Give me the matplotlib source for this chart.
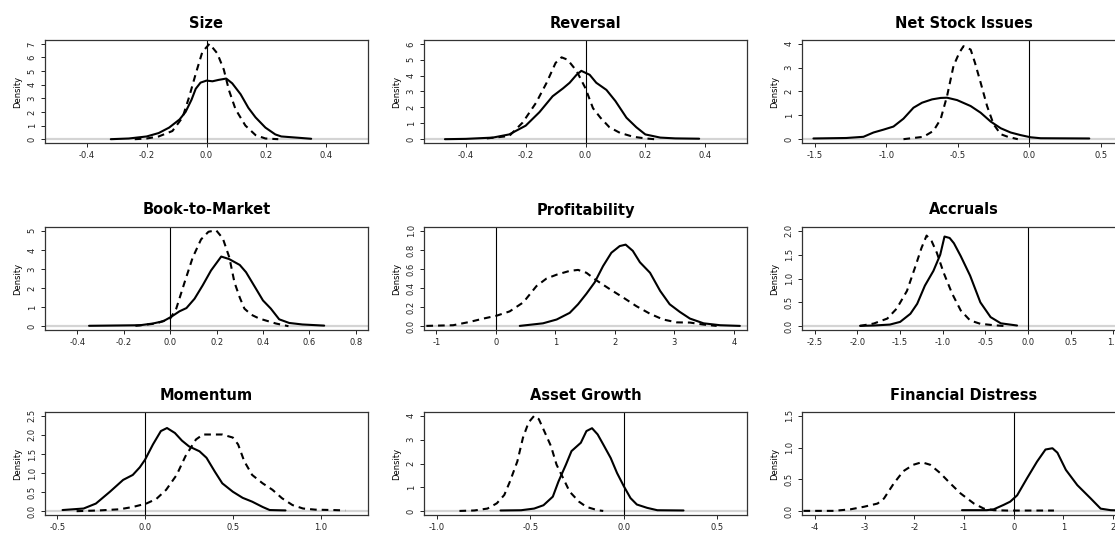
import matplotlib
matplotlib.use('Agg')
import matplotlib.pyplot as plt

# --- data (solid = first sample, dashed = second) ---
size_solid_x = [-0.32, -0.26, -0.2, -0.16, -0.125, -0.09, -0.07, -0.05, -0.036, -0.02, 0.0, 0.02, 0.04, 0.066, 0.086, 0.114, 0.14, 0.164, 0.197, 0.23, 0.25, 0.31, 0.35]
size_solid_y = [0.0, 0.05, 0.2, 0.45, 0.85, 1.45, 2.0, 2.9, 3.7, 4.15, 4.3, 4.25, 4.35, 4.45, 4.1, 3.3, 2.3, 1.6, 0.85, 0.35, 0.2, 0.1, 0.03]
size_dash_x = [-0.24, -0.2, -0.16, -0.114, -0.08, -0.058, -0.036, -0.014, 0.01, 0.036, 0.058, 0.075, 0.097, 0.13, 0.164, 0.197, 0.24]
size_dash_y = [0.0, 0.05, 0.2, 0.6, 1.6, 3.1, 4.8, 6.4, 7.0, 6.3, 5.1, 3.6, 2.2, 1.0, 0.3, 0.05, 0.0]

rev_solid_x = [-0.47, -0.4, -0.31, -0.255, -0.2, -0.154, -0.11, -0.075, -0.053, -0.03, -0.014, 0.014, 0.036, 0.07, 0.1, 0.137, 0.17, 0.2, 0.25, 0.3, 0.38]
rev_solid_y = [0.0, 0.02, 0.1, 0.3, 0.85, 1.7, 2.7, 3.2, 3.55, 4.05, 4.3, 4.05, 3.55, 3.1, 2.4, 1.35, 0.75, 0.3, 0.1, 0.05, 0.03]
rev_dash_x = [-0.33, -0.255, -0.21, -0.165, -0.13, -0.1, -0.08, -0.06, -0.03, 0.0, 0.025, 0.05, 0.08, 0.115, 0.16, 0.2, 0.23]
rev_dash_y = [0.05, 0.2, 1.05, 2.3, 3.55, 4.8, 5.15, 5.0, 4.3, 3.2, 1.95, 1.35, 0.75, 0.4, 0.15, 0.05, 0.0]

nsi_solid_x = [-1.51, -1.28, -1.16, -1.09, -1.02, -0.95, -0.88, -0.81, -0.75, -0.68, -0.62, -0.575, -0.505, -0.41, -0.34, -0.27, -0.2, -0.13, -0.06, 0.01, 0.08, 0.42]
nsi_solid_y = [0.03, 0.05, 0.1, 0.28, 0.4, 0.53, 0.86, 1.32, 1.53, 1.67, 1.73, 1.74, 1.64, 1.39, 1.11, 0.74, 0.46, 0.28, 0.17, 0.08, 0.04, 0.03]
nsi_dash_x = [-0.88, -0.74, -0.67, -0.62, -0.575, -0.53, -0.49, -0.46, -0.41, -0.38, -0.34, -0.295, -0.25, -0.2, -0.15, -0.08]
nsi_dash_y = [0.0, 0.1, 0.35, 0.84, 1.81, 3.07, 3.62, 3.9, 3.76, 3.21, 2.37, 1.39, 0.63, 0.21, 0.1, 0.0]

bm_solid_x = [-0.35, -0.13, -0.075, -0.03, 0.004, 0.04, 0.07, 0.105, 0.14, 0.176, 0.22, 0.254, 0.3, 0.327, 0.37, 0.4, 0.434, 0.47, 0.513, 0.57, 0.664]
bm_solid_y = [0.02, 0.05, 0.14, 0.26, 0.49, 0.78, 0.95, 1.44, 2.14, 2.92, 3.65, 3.52, 3.21, 2.83, 1.96, 1.35, 0.92, 0.36, 0.17, 0.09, 0.03]
bm_dash_x = [-0.15, -0.06, 0.0, 0.026, 0.062, 0.097, 0.133, 0.165, 0.198, 0.227, 0.255, 0.277, 0.3, 0.32, 0.35, 0.384, 0.456, 0.51]
bm_dash_y = [0.02, 0.14, 0.4, 0.92, 2.3, 3.6, 4.55, 4.95, 5.03, 4.6, 3.6, 2.3, 1.5, 0.92, 0.6, 0.4, 0.14, 0.0]

prof_solid_x = [0.4, 0.79, 1.02, 1.24, 1.38, 1.52, 1.66, 1.8, 1.94, 2.08, 2.18, 2.3, 2.42, 2.59, 2.76, 2.92, 3.09, 3.26, 3.49, 3.77, 4.1]
prof_solid_y = [0.003, 0.03, 0.07, 0.14, 0.23, 0.34, 0.46, 0.63, 0.77, 0.84, 0.855, 0.79, 0.67, 0.56, 0.37, 0.23, 0.15, 0.08, 0.03, 0.01, 0.003]
prof_dash_x = [-1.17, -0.72, -0.44, -0.21, 0.01, 0.23, 0.46, 0.68, 0.85, 1.02, 1.24, 1.38, 1.52, 1.69, 1.91, 2.14, 2.36, 2.59, 2.81, 3.04, 3.26, 3.49, 3.71]
prof_dash_y = [0.003, 0.01, 0.045, 0.08, 0.11, 0.155, 0.25, 0.42, 0.5, 0.54, 0.58, 0.59, 0.56, 0.48, 0.39, 0.3, 0.21, 0.13, 0.07, 0.04, 0.038, 0.017, 0.003]

acc_solid_x = [-1.97, -1.81, -1.62, -1.5, -1.38, -1.3, -1.21, -1.11, -1.03, -0.98, -0.92, -0.87, -0.79, -0.68, -0.56, -0.44, -0.32, -0.13]
acc_solid_y = [0.007, 0.014, 0.034, 0.09, 0.26, 0.47, 0.85, 1.16, 1.5, 1.88, 1.85, 1.74, 1.47, 1.06, 0.5, 0.19, 0.06, 0.014]
acc_dash_x = [-1.97, -1.81, -1.65, -1.54, -1.42, -1.32, -1.25, -1.19, -1.13, -1.07, -0.99, -0.89, -0.79, -0.68, -0.56, -0.4, -0.25]
acc_dash_y = [0.007, 0.055, 0.16, 0.37, 0.74, 1.26, 1.64, 1.9, 1.78, 1.54, 1.12, 0.68, 0.33, 0.12, 0.05, 0.02, 0.0]

mom_solid_x = [-0.47, -0.35, -0.28, -0.2, -0.125, -0.07, -0.03, 0.0, 0.045, 0.09, 0.125, 0.17, 0.21, 0.25, 0.31, 0.35, 0.397, 0.44, 0.5, 0.556, 0.61, 0.67, 0.71, 0.8]
mom_solid_y = [0.03, 0.07, 0.2, 0.51, 0.82, 0.95, 1.15, 1.35, 1.75, 2.1, 2.18, 2.05, 1.85, 1.7, 1.57, 1.4, 1.04, 0.73, 0.51, 0.35, 0.25, 0.11, 0.03, 0.02]
mom_dash_x = [-0.39, -0.26, -0.145, -0.07, 0.007, 0.064, 0.12, 0.18, 0.23, 0.29, 0.33, 0.385, 0.44, 0.5, 0.53, 0.565, 0.61, 0.67, 0.726, 0.78, 0.84, 0.9, 0.97, 1.07, 1.14]
mom_dash_y = [0.0, 0.02, 0.05, 0.11, 0.2, 0.32, 0.56, 0.95, 1.44, 1.88, 2.01, 2.01, 2.01, 1.93, 1.75, 1.31, 0.95, 0.73, 0.56, 0.34, 0.16, 0.07, 0.04, 0.03, 0.02]

ag_solid_x = [-0.66, -0.55, -0.48, -0.43, -0.38, -0.35, -0.31, -0.28, -0.23, -0.2, -0.17, -0.14, -0.11, -0.07, -0.036, 0.0, 0.036, 0.07, 0.125, 0.18, 0.32]
ag_solid_y = [0.03, 0.04, 0.11, 0.25, 0.61, 1.24, 1.95, 2.52, 2.87, 3.36, 3.48, 3.22, 2.8, 2.23, 1.6, 1.05, 0.55, 0.28, 0.14, 0.04, 0.03]
ag_dash_x = [-0.88, -0.8, -0.73, -0.68, -0.64, -0.61, -0.57, -0.54, -0.51, -0.48, -0.455, -0.43, -0.39, -0.36, -0.32, -0.29, -0.24, -0.2, -0.14, -0.11]
ag_dash_y = [0.01, 0.03, 0.11, 0.33, 0.68, 1.24, 2.09, 3.08, 3.72, 4.0, 3.86, 3.43, 2.73, 1.95, 1.31, 0.82, 0.4, 0.18, 0.04, 0.01]

fd_solid_x = [-1.04, -0.54, -0.4, -0.2, -0.07, 0.07, 0.27, 0.47, 0.64, 0.78, 0.88, 1.05, 1.28, 1.55, 1.75, 1.95, 2.2]
fd_solid_y = [0.016, 0.016, 0.03, 0.1, 0.15, 0.25, 0.52, 0.78, 0.97, 0.99, 0.92, 0.65, 0.41, 0.2, 0.04, 0.016, 0.01]
fd_dash_x = [-4.23, -3.62, -3.28, -3.01, -2.74, -2.61, -2.41, -2.22, -2.02, -1.85, -1.68, -1.48, -1.28, -1.07, -0.8, -0.6, -0.4, -0.13, 0.81]
fd_dash_y = [0.005, 0.005, 0.03, 0.07, 0.12, 0.2, 0.44, 0.63, 0.73, 0.77, 0.73, 0.6, 0.44, 0.28, 0.12, 0.04, 0.016, 0.01, 0.01]

titles = ['Size', 'Reversal', 'Net Stock Issues', 'Book-to-Market', 'Profitability',
          'Accruals', 'Momentum', 'Asset Growth', 'Financial Distress']

xticks = [['-0.4', '-0.2', '0.0', '0.2', '0.4'],
          ['-0.4', '-0.2', '0.0', '0.2', '0.4'],
          ['-1.5', '-1.0', '-0.5', '0.0', '0.5'],
          ['-0.4', '-0.2', '0.0', '0.2', '0.4', '0.6', '0.8'],
          ['-1', '0', '1', '2', '3', '4'],
          ['-2.5', '-2.0', '-1.5', '-1.0', '-0.5', '0.0', '0.5', '1.0'],
          ['-0.5', '0.0', '0.5', '1.0'],
          ['-1.0', '-0.5', '0.0', '0.5'],
          ['-4', '-3', '-2', '-1', '0', '1', '2']]
yticks = [['0', '1', '2', '3', '4', '5', '6', '7'],
          ['0', '1', '2', '3', '4', '5', '6'],
          ['0', '1', '2', '3', '4'],
          ['0', '1', '2', '3', '4', '5'],
          ['0.0', '0.2', '0.4', '0.6', '0.8', '1.0'],
          ['0.0', '0.5', '1.0', '1.5', '2.0'],
          ['0.0', '0.5', '1.0', '1.5', '2.0', '2.5'],
          ['0', '1', '2', '3', '4'],
          ['0.0', '0.5', '1.0', '1.5']]
xlims = [(-0.54, 0.54), (-0.54, 0.54), (-1.59, 0.67), (-0.54, 0.853), (-1.21, 4.22),
         (-2.65, 1.135), (-0.57, 1.27), (-1.07, 0.66), (-4.26, 2.24)]

solid = [(size_solid_x, size_solid_y), (rev_solid_x, rev_solid_y), (nsi_solid_x, nsi_solid_y),
         (bm_solid_x, bm_solid_y), (prof_solid_x, prof_solid_y), (acc_solid_x, acc_solid_y),
         (mom_solid_x, mom_solid_y), (ag_solid_x, ag_solid_y), (fd_solid_x, fd_solid_y)]
dashed = [(size_dash_x, size_dash_y), (rev_dash_x, rev_dash_y), (nsi_dash_x, nsi_dash_y),
          (bm_dash_x, bm_dash_y), (prof_dash_x, prof_dash_y), (acc_dash_x, acc_dash_y),
          (mom_dash_x, mom_dash_y), (ag_dash_x, ag_dash_y), (fd_dash_x, fd_dash_y)]

W, H = 1115, 534
fig = plt.figure(figsize=(W / 100, H / 100), dpi=100)

col_left = [45, 424, 802]
row_top = [40, 227, 412]
ax_w, ax_h = 323, 103

for i in range(9):
    r, c = divmod(i, 3)
    left = col_left[c] / W
    bottom = (H - row_top[r] - ax_h) / H
    ax = fig.add_axes([left, bottom, ax_w / W, ax_h / H])

    yt = [float(v) for v in yticks[i]]
    ymax = yt[-1]
    ax.set_ylim(-0.04 * ymax, 1.04 * ymax)
    ax.set_xlim(*xlims[i])

    # grey zero line and vertical reference at 0
    ax.axhline(0, color='#d4d4d4', lw=1.6, zorder=1)
    ax.axvline(0, color='black', lw=0.8, zorder=2)

    ax.plot(solid[i][0], solid[i][1], color='black', lw=1.5, zorder=3,
            solid_joinstyle='round', solid_capstyle='round')
    ln, = ax.plot(dashed[i][0], dashed[i][1], color='black', lw=1.5, zorder=3)
    ln.set_dashes((3.2, 2.4))

    ax.set_xticks([float(v) for v in xticks[i]])
    ax.set_xticklabels(xticks[i])
    ax.set_yticks(yt)
    ax.set_yticklabels(yticks[i], rotation=90, va='center')
    ax.tick_params(labelsize=6, length=3, width=0.7, pad=3, colors='#222222')
    ax.set_ylabel('Density', fontsize=6, labelpad=4)
    ax.set_title(titles[i], fontsize=10.5, fontweight='bold', pad=9)
    for sp in ax.spines.values():
        sp.set_linewidth(0.9)
        sp.set_color('#333333')

fig.savefig('out.png', dpi=100)
